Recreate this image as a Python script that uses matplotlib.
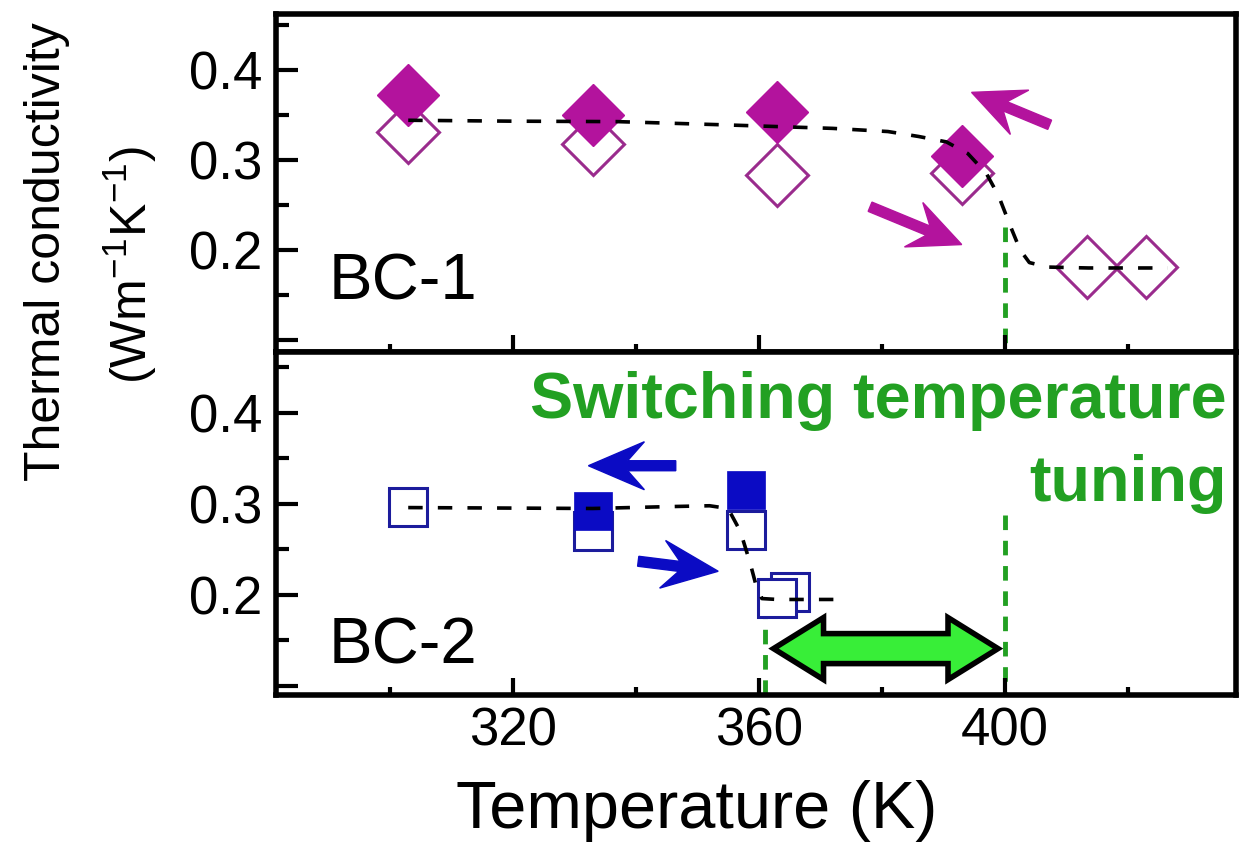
import numpy as np
import matplotlib.pyplot as plt
from matplotlib.patches import FancyArrow, Polygon
from matplotlib.transforms import IdentityTransform

plt.rcParams['font.family'] = ['Liberation Sans', 'DejaVu Sans']
plt.rcParams['mathtext.fontset'] = 'custom'
plt.rcParams['mathtext.rm'] = 'Liberation Sans'
plt.rcParams['mathtext.it'] = 'Liberation Sans:italic'
plt.rcParams['mathtext.bf'] = 'Liberation Sans:bold'

# BC-1 (diamanti)
t_bc1_pieni = [303, 333, 363, 393]
k_bc1_pieni = [0.372, 0.350, 0.353, 0.304]
t_bc1_vuoti = [303, 333, 363, 393, 413.3, 422.9]
k_bc1_vuoti = [0.331, 0.318, 0.283, 0.285, 0.181, 0.181]
t_bc1_fit = [303, 320, 337, 354, 372, 381, 386, 390.5, 394, 397, 399, 401, 402.5, 404, 407, 413.6, 426.5]
k_bc1_fit = [0.344, 0.343, 0.3425, 0.339, 0.335, 0.3315, 0.326, 0.320, 0.307, 0.285, 0.260,
             0.225, 0.200, 0.186, 0.181, 0.180, 0.180]

# BC-2 (quadrati)
t_bc2_pieni = [333, 358]
k_bc2_pieni = [0.292, 0.315]
t_bc2_vuoti = [303, 333, 358, 365, 363]
k_bc2_vuoti = [0.297, 0.270, 0.271, 0.203, 0.197]
t_bc2_fit = [303, 318, 333, 345, 352, 355, 357, 358.6, 359.5, 360.5, 363, 372.5]
k_bc2_fit = [0.296, 0.2955, 0.295, 0.297, 0.298, 0.295, 0.270, 0.235, 0.212, 0.196, 0.195, 0.195]

# temperature di switching
t_switch_bc1 = 400
t_switch_bc2 = 361

magenta = '#b3139d'
viola = '#9a2b8d'
blu = '#0b0bc4'
blu_bordo = '#1c1c9c'
verde = '#22a022'
verde_chiaro = '#38ee38'

W, H = 1241, 856
fig = plt.figure(figsize=(W / 100, H / 100), dpi=100)
ax1 = fig.add_axes([276 / W, 1 - 352 / H, 960 / W, 338 / H])
ax2 = fig.add_axes([276 / W, 1 - 695 / H, 960 / W, 343 / H])

ax1.set_ylim(0.0867, 0.462)
ax2.set_ylim(0.090, 0.467)
for ax in (ax1, ax2):
    ax.set_xlim(281.5, 437.6)
    for s in ax.spines.values():
        s.set_linewidth(4)
    ax.set_xticks([320, 360, 400])
    ax.set_xticks([300, 340, 380, 420], minor=True)
    ax.set_yticks([0.1, 0.2, 0.3, 0.4], ['', '0.2', '0.3', '0.4'])
    ax.set_yticks([0.15, 0.25, 0.35, 0.45], minor=True)
    ax.tick_params(which='both', direction='in', top=False, right=False, width=3, labelsize=38)
    ax.tick_params(axis='y', which='major', length=16, pad=10)
    ax.tick_params(axis='y', which='minor', length=9)
    ax.tick_params(axis='x', which='major', length=12, pad=8)
    ax.tick_params(axis='x', which='minor', length=6)
ax1.tick_params(axis='x', labelbottom=False)

tratteggio_verde = (0, (3, 2.2))
tratteggio_nero = (0, (4.0, 4.2))

# pannello superiore
ax1.plot([t_switch_bc1, t_switch_bc1], [0.225, 0.0867], color=verde, lw=3.5,
         linestyle=tratteggio_verde, zorder=1, clip_on=False)
ax1.plot(t_bc1_vuoti, k_bc1_vuoti, 'D', ms=32, mfc='white', mec=viola, mew=2.2, linestyle='none', zorder=3)
ax1.plot(t_bc1_pieni, k_bc1_pieni, 'D', ms=32, mfc=magenta, mec=magenta, mew=1, linestyle='none', zorder=4)
ax1.plot(t_bc1_fit, k_bc1_fit, color='black', lw=2.6, linestyle=tratteggio_nero, zorder=5)
ax1.text(0.055, 0.155, 'BC-1', transform=ax1.transAxes, fontsize=47, ha='left', va='baseline')

# pannello inferiore
ax2.plot([t_switch_bc1, t_switch_bc1], [0.288, 0.090], color=verde, lw=3.5,
         linestyle=tratteggio_verde, zorder=1)
ax2.plot([t_switch_bc2, t_switch_bc2], [0.19, 0.090], color=verde, lw=3.5,
         linestyle=tratteggio_verde, zorder=1)
ax2.plot(t_bc2_vuoti, k_bc2_vuoti, 's', ms=28, mfc='white', mec=blu_bordo, mew=2.2, linestyle='none', zorder=3)
ax2.plot(t_bc2_pieni, k_bc2_pieni, 's', ms=27, mfc=blu, mec=blu, mew=0.5, linestyle='none', zorder=4)
ax2.plot(t_bc2_fit, k_bc2_fit, color='black', lw=2.6, linestyle=tratteggio_nero, zorder=5)
ax2.text(0.055, 0.092, 'BC-2', transform=ax2.transAxes, fontsize=47, ha='left', va='baseline')
ax2.text(0.9906, 0.807, 'Switching temperature', transform=ax2.transAxes, fontsize=46.5,
         fontweight='bold', color=verde, ha='right', va='baseline')
ax2.text(0.9906, 0.567, 'tuning', transform=ax2.transAxes, fontsize=46.5,
         fontweight='bold', color=verde, ha='right', va='baseline')


def freccia(ax, coda, punta, colore, spessore, largh_testa, lungh_testa):
    (x0, y0), (x1, y1) = ax.transData.transform([coda, punta])
    f = FancyArrow(x0, y0, x1 - x0, y1 - y0, width=spessore, head_width=largh_testa,
                   head_length=lungh_testa, length_includes_head=True, overhang=0.3,
                   color=colore, transform=IdentityTransform(), zorder=6)
    f.set_clip_on(False)
    ax.add_patch(f)


freccia(ax1, (407.3, 0.339), (394.6, 0.375), magenta, 10, 48, 52)
freccia(ax1, (378.1, 0.248), (393.0, 0.206), magenta, 10, 48, 52)
freccia(ax2, (346.5, 0.342), (332.3, 0.342), blu, 10, 48, 56)
freccia(ax2, (340.4, 0.237), (353.4, 0.226), blu, 10, 48, 56)

# doppia freccia verde
(xl, yc), (xr, _) = ax2.transData.transform([(362.4, 0.141), (398.9, 0.141)])
hl, hh, hs = 50, 31, 15
vertici = [(xl, yc), (xl + hl, yc + hh), (xl + hl, yc + hs), (xr - hl, yc + hs), (xr - hl, yc + hh),
           (xr, yc), (xr - hl, yc - hh), (xr - hl, yc - hs), (xl + hl, yc - hs), (xl + hl, yc - hh)]
doppia = Polygon(vertici, closed=True, facecolor=verde_chiaro, edgecolor='black', lw=4,
                 joinstyle='miter', transform=IdentityTransform(), zorder=6)
ax2.add_patch(doppia)

fig.text(697 / W, 1 - 828 / H, 'Temperature (K)', fontsize=48, ha='center', va='baseline')
fig.text(47 / W, 1 - 252 / H, 'Thermal conductivity', fontsize=36, rotation=90, ha='center', va='center')
fig.text(130 / W, 1 - 265 / H, '(Wm$^{-1}$K$^{-1}$)', fontsize=36, rotation=90, ha='center', va='center')

fig.savefig('out.png', dpi=100)
